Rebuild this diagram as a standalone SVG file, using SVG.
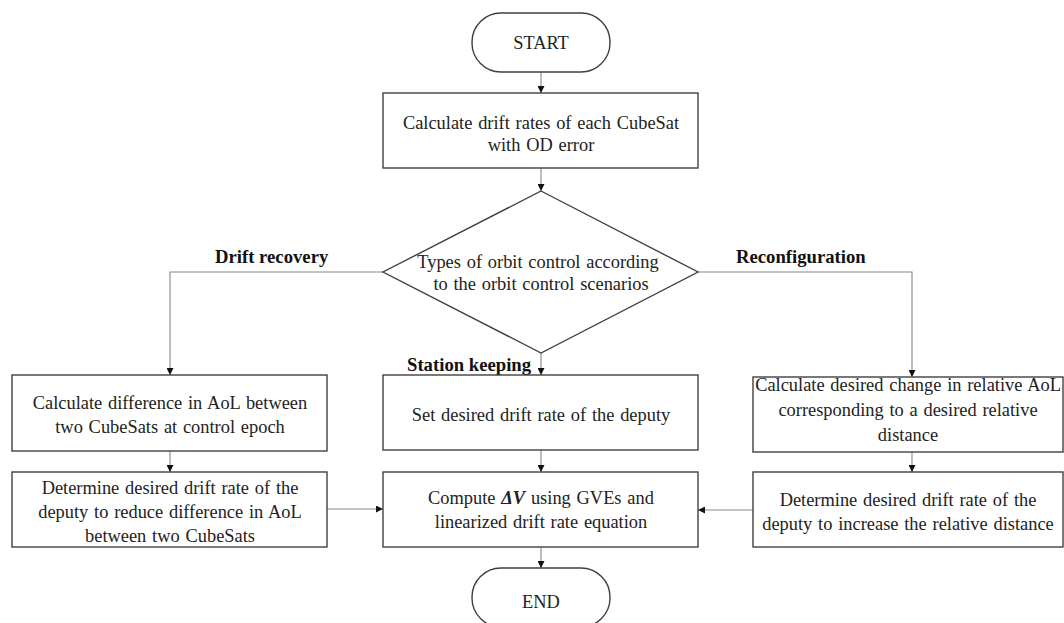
<svg xmlns="http://www.w3.org/2000/svg" width="1064" height="623" viewBox="0 0 1064 623">
<defs>
<style>
.box{fill:#fff;stroke:#404040;stroke-width:1.4}
.t{font-family:"Liberation Serif","Times New Roman",serif;font-size:18.4px;word-spacing:1.2px;fill:#222;text-anchor:middle}
.lbl{font-family:"Liberation Serif","Times New Roman",serif;font-size:18.7px;font-weight:bold;fill:#111}
.c{fill:none;stroke:#888;stroke-width:1.1}
</style>
<marker id="ah" viewBox="0 0 10 10" refX="10" refY="5" markerWidth="7" markerHeight="7" markerUnits="userSpaceOnUse" orient="auto">
<path d="M0,0 L10,5 L0,10 z" fill="#111"/>
</marker>
</defs>
<rect width="1064" height="623" fill="#fff"/>
<g id="connectors">
<path class="c" d="M541,72 V93" marker-end="url(#ah)"/>
<path class="c" d="M541,168 V191" marker-end="url(#ah)"/>
<path class="c" d="M383,272 H170 V375" marker-end="url(#ah)"/>
<path class="c" d="M698,272 H912 V377" marker-end="url(#ah)"/>
<path class="c" d="M541,353 V375" marker-end="url(#ah)"/>
<path class="c" d="M170,451 V472" marker-end="url(#ah)"/>
<path class="c" d="M541,450 V472" marker-end="url(#ah)"/>
<path class="c" d="M912,452 V472" marker-end="url(#ah)"/>
<path class="c" d="M327,509 H383" marker-end="url(#ah)"/>
<path class="c" d="M753,510 H698" marker-end="url(#ah)"/>
<path class="c" d="M541,547 V568" marker-end="url(#ah)"/>
<text class="lbl" x="215" y="263">Drift recovery</text>
<text class="lbl" x="736" y="263">Reconfiguration</text>
<text class="lbl" x="407" y="371">Station keeping</text>
</g>
<g id="start">
<rect class="box" x="472" y="13" width="138" height="59" rx="29" ry="29"/>
<text class="t" x="541" y="49">START</text>
</g>
<g id="calc-drift">
<rect class="box" x="383" y="93" width="315" height="75"/>
<text class="t" x="541" y="129">Calculate drift rates of each CubeSat</text>
<text class="t" x="541" y="151">with OD error</text>
</g>
<g id="decision">
<path class="box" d="M541,191 L698,272 L541,353 L383,272 Z"/>
<text class="t" x="538" y="268">Types of orbit control according</text>
<text class="t" x="541" y="290">to the orbit control scenarios</text>
</g>
<g id="calc-diff">
<rect class="box" x="12" y="375" width="315" height="76"/>
<text class="t" x="170" y="409">Calculate difference in AoL between</text>
<text class="t" x="170" y="433">two CubeSats at control epoch</text>
</g>
<g id="det-reduce">
<rect class="box" x="12" y="472" width="315" height="75"/>
<text class="t" x="170" y="494">Determine desired drift rate of the</text>
<text class="t" x="170" y="518">deputy to reduce difference in AoL</text>
<text class="t" x="170" y="542">between two CubeSats</text>
</g>
<g id="set-drift">
<rect class="box" x="383" y="375" width="315" height="75"/>
<text class="t" x="541" y="421">Set desired drift rate of the deputy</text>
</g>
<g id="compute">
<rect class="box" x="383" y="472" width="315" height="75"/>
<text class="t" x="541" y="504">Compute <tspan font-weight="bold" font-style="italic">ΔV</tspan> using GVEs and</text>
<text class="t" x="541" y="528">linearized drift rate equation</text>
</g>
<g id="calc-change">
<rect class="box" x="753" y="377" width="310" height="75"/>
<text class="t" x="908" y="391">Calculate desired change in relative AoL</text>
<text class="t" x="908" y="416">corresponding to a desired relative</text>
<text class="t" x="908" y="441">distance</text>
</g>
<g id="det-increase">
<rect class="box" x="753" y="472" width="310" height="75"/>
<text class="t" x="908" y="506">Determine desired drift rate of the</text>
<text class="t" x="908" y="530">deputy to increase the relative distance</text>
</g>
<g id="end">
<rect class="box" x="472" y="568" width="138" height="59" rx="29" ry="29"/>
<text class="t" x="541" y="608">END</text>
</g>
</svg>
